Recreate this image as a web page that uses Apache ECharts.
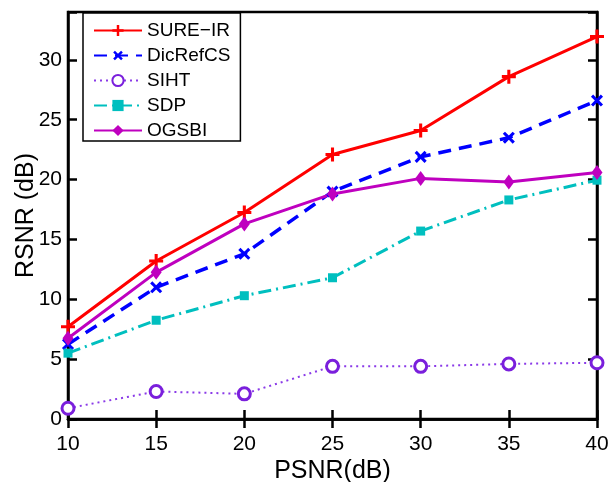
<!DOCTYPE html>
<html>
<head>
<meta charset="utf-8">
<script src="https://cdn.jsdelivr.net/npm/echarts@6/dist/echarts.min.js"></script>
<style>
html,body{margin:0;padding:0;background:#fff;}
#chart{width:612px;height:482px;}
</style>
</head>
<body>
<div id="chart"></div>
<script>
const psnr = [10, 15, 20, 25, 30, 35, 40];
const sureIR   = [7.7, 13.2, 17.25, 22.1, 24.1, 28.6, 31.95];
const dicRefCS = [6.25, 11.0, 13.8, 19.0, 21.9, 23.5, 26.6];
const siht     = [0.9, 2.3, 2.1, 4.4, 4.4, 4.6, 4.7];
const sdp      = [5.5, 8.25, 10.3, 11.8, 15.7, 18.3, 19.95];
const ogsbi    = [6.75, 12.25, 16.3, 18.8, 20.1, 19.8, 20.6];
const seriesNames = ['SURE\u2212IR', 'DicRefCS', 'SIHT', 'SDP', 'OGSBI'];

const plusPath = 'path://M-1,-0.22H-0.22V-1H0.22V-0.22H1V0.22H0.22V1H-0.22V0.22H-1Z';
const pair = arr => psnr.map((x, i) => [x, arr[i]]);
const FONT = 'Liberation Sans, Arial, sans-serif';

const chart = echarts.init(document.getElementById('chart'));
const axisCommon = {
  type: 'value',
  axisLine: { show: true, lineStyle: { color: '#000', width: 2.5 } },
  axisTick: { show: true, inside: true, length: 9, lineStyle: { color: '#000', width: 2.5 } },
  splitLine: { show: false }
};
chart.setOption({
  animation: false,
  backgroundColor: '#fff',
  grid: { left: 68, right: 15, top: 12, bottom: 63, containLabel: false, outerBoundsMode: 'none',
          show: true, borderColor: '#000', borderWidth: 2.5 },
  legend: {
    orient: 'vertical',
    left: 83, top: 13,
    padding: [8, 10, 1, 10],
    itemWidth: 48, itemHeight: 14, itemGap: 6,
    backgroundColor: '#fff',
    borderColor: '#000', borderWidth: 1.5,
    textStyle: { fontFamily: FONT, fontSize: 19, color: '#000' },
    data: seriesNames
  },
  xAxis: [
    Object.assign({}, axisCommon, {
      min: 10, max: 40, interval: 5, position: 'bottom',
      name: 'PSNR(dB)', nameLocation: 'middle', nameGap: 40, nameMoveOverlap: false,
      nameTextStyle: { fontFamily: FONT, fontSize: 25, color: '#000' },
      axisLabel: { fontFamily: FONT, fontSize: 21, color: '#000', margin: 15 }
    }),
    Object.assign({}, axisCommon, {
      min: 10, max: 40, interval: 5, position: 'top',
      axisLabel: { show: false }
    })
  ],
  yAxis: [
    Object.assign({}, axisCommon, {
      min: 0, max: 34, interval: 5, position: 'left',
      name: 'RSNR (dB)', nameLocation: 'middle', nameGap: 29, nameMoveOverlap: false,
      nameTextStyle: { fontFamily: FONT, fontSize: 25, color: '#000' },
      axisLabel: { fontFamily: FONT, fontSize: 21, color: '#000', margin: 6,
        formatter: v => (v % 5 === 0 ? String(v) : '') }
    }),
    Object.assign({}, axisCommon, {
      min: 0, max: 34, interval: 5, position: 'right',
      axisLabel: { show: false }
    })
  ],
  series: [
    {
      name: seriesNames[0], type: 'line', data: pair(sureIR),
      symbol: plusPath, symbolSize: 14,
      lineStyle: { color: '#ff0000', width: 3, type: 'solid' },
      itemStyle: { color: '#ff0000' }
    },
    {
      name: seriesNames[1], type: 'line', data: pair(dicRefCS),
      symbol: plusPath, symbolSize: 14, symbolRotate: 45,
      lineStyle: { color: '#0000ff', width: 3.5, type: [13, 8] },
      itemStyle: { color: '#0000ff' }
    },
    {
      name: seriesNames[2], type: 'line', data: pair(siht),
      symbol: 'circle', symbolSize: 12,
      lineStyle: { color: '#8a3ae8', width: 2, type: [2, 4] },
      itemStyle: { color: '#ffffff', borderColor: '#7a1fdc', borderWidth: 3 }
    },
    {
      name: seriesNames[3], type: 'line', data: pair(sdp),
      symbol: 'rect', symbolSize: 9,
      lineStyle: { color: '#00bfbf', width: 3, type: [13, 5, 2, 5] },
      itemStyle: { color: '#00bfbf' }
    },
    {
      name: seriesNames[4], type: 'line', data: pair(ogsbi),
      symbol: 'diamond', symbolSize: [11, 15],
      lineStyle: { color: '#bf00bf', width: 3, type: 'solid' },
      itemStyle: { color: '#bf00bf' }
    }
  ]
});
</script>
</body>
</html>
